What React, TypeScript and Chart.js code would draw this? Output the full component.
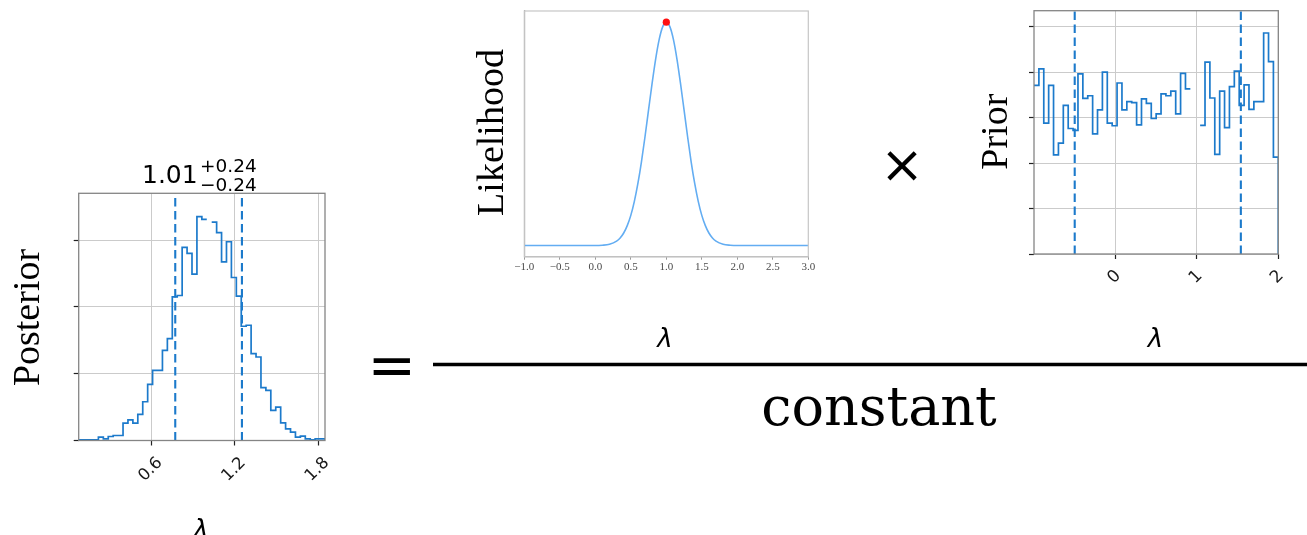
import React, { useEffect, useRef } from "react";
import { Chart, registerables } from "chart.js";

Chart.register(...registerables);

// ---------- posterior: binned samples of λ (50 bins over the sample range) ----------
const posteriorRange = [0.075, 1.848];
const posteriorCounts: (number | null)[] = [
  0.01, 0.01, 0.01, 0.01, 0.05, 0.025, 0.06, 0.075, 0.075, 0.26,
  0.31, 0.26, 0.39, 0.58, 0.84, 1.05, 1.05, 1.35, 1.525, 2.15,
  2.17, 2.89, 2.8, 2.49, 3.35, 3.31, null, 3.27, 3.11, 2.675,
  2.975, 2.44, 2.16, 1.71, 1.725, 1.3, 1.25, 0.79, 0.75, 0.45,
  0.5, 0.265, 0.175, 0.125, 0.05, 0.065, 0.025, 0.01, 0.025, 0.025,
];
const posteriorMedian = 1.01;
const posteriorErrLow = 0.24;
const posteriorErrHigh = 0.24;
const posteriorXTicks = [0.6, 1.2, 1.8];
const posteriorXTickLabels = ["0.6", "1.2", "1.8"];
const posteriorYTicks = [0, 1, 2, 3];
const posteriorYMax = 3.7;

// ---------- likelihood curve ----------
const likelihoodX = [
  -1.0, -0.5, 0.0, 0.1, 0.2, 0.3, 0.35, 0.4, 0.45, 0.5,
  0.55, 0.6, 0.65, 0.7, 0.75, 0.8, 0.85, 0.9, 0.95, 1.0,
  1.05, 1.1, 1.15, 1.2, 1.25, 1.3, 1.35, 1.4, 1.45, 1.5,
  1.55, 1.6, 1.65, 1.7, 1.8, 1.9, 2.0, 2.5, 3.0,
];
const likelihoodY = [
  0, 0, 0, 0.0015, 0.006, 0.02, 0.034, 0.056, 0.089, 0.135,
  0.198, 0.278, 0.375, 0.487, 0.607, 0.726, 0.835, 0.923, 0.98, 1.0,
  0.98, 0.923, 0.835, 0.726, 0.607, 0.487, 0.375, 0.278, 0.198, 0.135,
  0.089, 0.056, 0.034, 0.02, 0.006, 0.0015, 0, 0, 0,
];
const likelihoodXTicks = [-1, -0.5, 0, 0.5, 1, 1.5, 2, 2.5, 3];
const likelihoodXTickLabels = ["\u22121.0", "\u22120.5", "0.0", "0.5", "1.0", "1.5", "2.0", "2.5", "3.0"];
const likelihoodYRange = [-0.05, 1.05];

// ---------- prior: binned samples of λ ----------
const priorRange = [-1, 2];
const priorCounts: (number | null)[] = [
  3.71, 4.07, 2.88, 3.71, 2.18, 2.44, 3.27, 2.76, 2.72, 3.96,
  3.42, 3.48, 2.64, 3.17, 4.0, 2.88, 2.82, 3.76, 3.17, 3.35,
  3.33, 2.84, 3.41, 3.31, 2.98, 3.08, 3.52, 3.48, 3.58, 3.08,
  3.97, 3.63, null, null, 2.83, 4.22, 3.43, 2.19, 3.58, 2.78,
  3.68, 4.02, 3.27, 3.72, 3.18, 3.35, 3.35, 4.86, 4.23, 2.13,
];
const priorBounds = [-0.5, 1.54];
const priorXTicks = [0, 1, 2];
const priorXTickLabels = ["0", "1", "2"];
const priorYTicks = [0, 1, 2, 3, 4, 5];
const priorYMax = 5.35;

// ---------- styling ----------
const HIST_BLUE = "#1c7acb";
const CURVE_BLUE = "#63adf2";
const GRID = "#cbcbcb";
const TICK = "#222222";
const FRAME = "#858585";
const SANS = '"DejaVu Sans", sans-serif';
const SERIF = '"Liberation Serif", "Times New Roman", serif';

type Pt = { x: number; y: number | null };

// Outline of a step histogram: across each bin, dropping to zero at the right edge.
function stepOutline(range: number[], counts: (number | null)[]): Pt[] {
  const [lo, hi] = range;
  const w = (hi - lo) / counts.length;
  const pts: Pt[] = [];
  counts.forEach((c, i) => {
    const a = lo + i * w;
    if (c === null) pts.push({ x: a + w / 2, y: null });
    else pts.push({ x: a, y: c }, { x: a + w, y: c });
  });
  pts.push({ x: hi, y: 0 });
  return pts;
}

// Full box around the plotting area.
const framePlugin = {
  id: "frame",
  afterDatasetsDraw(chart: any, _args: any, opts: any) {
    const { ctx, chartArea: a } = chart;
    ctx.save();
    ctx.strokeStyle = opts.color;
    ctx.lineWidth = opts.width;
    ctx.strokeRect(a.left, a.top, a.right - a.left, a.bottom - a.top);
    ctx.restore();
  },
};

// Tick labels rotated 45°, centred under each tick.
const slantedTicksPlugin = {
  id: "slantedTicks",
  afterDraw(chart: any, _args: any, opts: any) {
    if (!opts || !opts.labels) return;
    const { ctx, chartArea } = chart;
    const xs = chart.scales.x;
    ctx.save();
    ctx.font = opts.font;
    ctx.fillStyle = opts.color;
    ctx.textAlign = "center";
    ctx.textBaseline = "middle";
    xs.ticks.forEach((t: any, i: number) => {
      const px = xs.getPixelForValue(t.value);
      ctx.save();
      ctx.translate(px + opts.dx, chartArea.bottom + opts.dy);
      ctx.rotate(-Math.PI / 4);
      ctx.fillText(opts.labels[i], 0, 0);
      ctx.restore();
    });
    ctx.restore();
  },
};

function cornerAxis(min: number, max: number, ticks: number[], size: number, isX: boolean) {
  return {
    type: "linear",
    min,
    max,
    afterBuildTicks: (s: any) => {
      s.ticks = ticks.map((v) => ({ value: v }));
    },
    afterFit: (s: any) => {
      if (isX) s.height = size;
      else s.width = size;
    },
    grid: { color: GRID, lineWidth: 1, drawTicks: true, tickLength: 5, tickColor: TICK, tickWidth: 1.2 },
    border: { display: false },
    ticks: { display: false },
  };
}

function histogramConfig(p: {
  range: number[];
  counts: (number | null)[];
  marks: number[];
  yMax: number;
  xTicks: number[];
  yTicks: number[];
  xLabels: string[];
  padTop: number;
  padRight: number;
  yAxisWidth: number;
  xAxisHeight: number;
  labelFont: string;
  labelDy: number;
}): any {
  const dashed = p.marks.map((m) => ({
    data: [
      { x: m, y: 0 },
      { x: m, y: p.yMax },
    ],
    borderColor: HIST_BLUE,
    borderWidth: 2.1,
    borderDash: [8.5, 4.5],
    pointRadius: 0,
    fill: false,
  }));
  return {
    type: "line",
    data: {
      datasets: [
        ...dashed,
        {
          data: stepOutline(p.range, p.counts),
          borderColor: HIST_BLUE,
          borderWidth: 1.7,
          pointRadius: 0,
          fill: false,
          tension: 0,
          spanGaps: false,
        },
      ],
    },
    options: {
      responsive: false,
      animation: false,
      events: [],
      layout: { padding: { top: p.padTop, right: p.padRight, left: 0, bottom: 0 } },
      scales: {
        x: cornerAxis(p.range[0], p.range[1], p.xTicks, p.xAxisHeight, true),
        y: cornerAxis(0, p.yMax, p.yTicks, p.yAxisWidth, false),
      },
      plugins: {
        legend: { display: false },
        tooltip: { enabled: false },
        frame: { color: FRAME, width: 1.3 },
        slantedTicks: { labels: p.xLabels, font: p.labelFont, color: "#1a1a1a", dx: -1, dy: p.labelDy },
      },
    },
    plugins: [framePlugin, slantedTicksPlugin],
  };
}

function posteriorConfig() {
  return histogramConfig({
    range: posteriorRange,
    counts: posteriorCounts,
    marks: [posteriorMedian - posteriorErrLow, posteriorMedian + posteriorErrHigh],
    yMax: posteriorYMax,
    xTicks: posteriorXTicks,
    yTicks: posteriorYTicks,
    xLabels: posteriorXTickLabels,
    padTop: 13.3,
    padRight: 15,
    yAxisWidth: 18.7,
    xAxisHeight: 59.5,
    labelFont: `16.5px ${SANS}`,
    labelDy: 29,
  });
}

function priorConfig() {
  return histogramConfig({
    range: priorRange,
    counts: priorCounts,
    marks: priorBounds,
    yMax: priorYMax,
    xTicks: priorXTicks,
    yTicks: priorYTicks,
    xLabels: priorXTickLabels,
    padTop: 10.7,
    padRight: 28.7,
    yAxisWidth: 24,
    xAxisHeight: 46,
    labelFont: `17px ${SANS}`,
    labelDy: 23,
  });
}

function likelihoodConfig(): any {
  const curve = likelihoodX.map((x, i) => ({ x, y: likelihoodY[i] }));
  const peakIndex = likelihoodY.indexOf(Math.max(...likelihoodY));
  return {
    type: "line",
    data: {
      datasets: [
        {
          data: [curve[peakIndex]],
          pointRadius: 3.6,
          pointBackgroundColor: "#ff1010",
          pointBorderWidth: 0,
          showLine: false,
        },
        {
          data: curve,
          borderColor: CURVE_BLUE,
          borderWidth: 1.6,
          pointRadius: 0,
          fill: false,
          cubicInterpolationMode: "monotone",
        },
      ],
    },
    options: {
      responsive: false,
      animation: false,
      events: [],
      layout: { padding: { top: 11, right: 21.7, left: 0, bottom: 0 } },
      scales: {
        x: {
          type: "linear",
          min: likelihoodXTicks[0],
          max: likelihoodXTicks[likelihoodXTicks.length - 1],
          afterBuildTicks: (s: any) => {
            s.ticks = likelihoodXTicks.map((v) => ({ value: v }));
          },
          afterFit: (s: any) => {
            s.height = 43.3;
          },
          grid: { display: true, drawOnChartArea: false, drawTicks: true, tickLength: 3, tickColor: "#9a9a9a" },
          border: { display: true, color: "#9a9a9a", width: 1.2 },
          ticks: {
            autoSkip: false,
            maxRotation: 0,
            minRotation: 0,
            padding: 1,
            color: "#4a4a4a",
            font: { family: SERIF, size: 11 },
            callback: (_v: any, i: number) => likelihoodXTickLabels[i],
          },
        },
        y: {
          type: "linear",
          min: likelihoodYRange[0],
          max: likelihoodYRange[1],
          afterFit: (s: any) => {
            s.width = 24.3;
          },
          grid: { display: false },
          border: { display: true, color: "#ababab", width: 1.2 },
          ticks: { display: false },
        },
      },
      plugins: {
        legend: { display: false },
        tooltip: { enabled: false },
        frame: { color: "#c6c6c6", width: 1.2 },
      },
    },
    plugins: [framePlugin],
  };
}

function ChartCanvas(props: { left: number; top: number; width: number; height: number; build: () => any }) {
  const ref = useRef<HTMLCanvasElement>(null);
  useEffect(() => {
    const chart = new Chart(ref.current as HTMLCanvasElement, props.build());
    return () => chart.destroy();
  }, []);
  return (
    <canvas
      ref={ref}
      width={props.width}
      height={props.height}
      style={{ position: "absolute", left: props.left, top: props.top, width: props.width, height: props.height }}
    />
  );
}

export default function App() {
  const title = posteriorMedian.toFixed(2);
  const sup = "+" + posteriorErrHigh.toFixed(2);
  const sub = "\u2212" + posteriorErrLow.toFixed(2);
  return (
    <div
      style={{
        position: "absolute",
        left: 0,
        top: 0,
        width: 1307,
        height: 535,
        overflow: "hidden",
        background: "#ffffff",
      }}
    >
      <ChartCanvas left={60} top={180} width={280} height={320} build={posteriorConfig} />
      <ChartCanvas left={500} top={0} width={330} height={300} build={likelihoodConfig} />
      <ChartCanvas left={1010} top={0} width={297} height={300} build={priorConfig} />
      <svg
        width={1307}
        height={535}
        style={{ position: "absolute", left: 0, top: 0, pointerEvents: "none" }}
      >
        {/* posterior panel */}
        <text x={142} y={183.3} fontFamily={SANS} fontSize={25} fill="#000">
          {title}
        </text>
        <text x={200} y={171.7} fontFamily={SANS} fontSize={18.5} fill="#000">
          {sup}
        </text>
        <text x={200} y={190.7} fontFamily={SANS} fontSize={18.5} fill="#000">
          {sub}
        </text>
        <text transform="translate(39,317.5) rotate(-90)" textAnchor="middle" fontFamily={SERIF} fontSize={38} fill="#000">
          Posterior
        </text>
        <text x={201} y={538} textAnchor="middle" fontFamily={SANS} fontStyle="italic" fontSize={26} fill="#000">
          λ
        </text>

        {/* equals sign */}
        <text x={391.7} y={385} textAnchor="middle" fontFamily={SANS} fontSize={58} fill="#000">
          =
        </text>

        {/* likelihood panel */}
        <text transform="translate(503.3,132.5) rotate(-90)" textAnchor="middle" fontFamily={SERIF} fontSize={38} fill="#000">
          Likelihood
        </text>
        <text x={665} y={347} textAnchor="middle" fontFamily={SANS} fontStyle="italic" fontSize={26} fill="#000">
          λ
        </text>

        {/* multiplication sign */}
        <text x={902} y={182} textAnchor="middle" fontFamily={SANS} fontSize={52} fill="#000">
          ×
        </text>

        {/* prior panel */}
        <text transform="translate(1006.7,131.7) rotate(-90)" textAnchor="middle" fontFamily={SERIF} fontSize={38} fill="#000">
          Prior
        </text>
        <text x={1155.5} y={347} textAnchor="middle" fontFamily={SANS} fontStyle="italic" fontSize={26} fill="#000">
          λ
        </text>

        {/* fraction bar and denominator */}
        <line x1={433} y1={364.5} x2={1307} y2={364.5} stroke="#000" strokeWidth={3.6} />
        <text x={879} y={425} textAnchor="middle" fontFamily={'"DejaVu Serif", serif'} fontSize={54} fill="#000">
          constant
        </text>
      </svg>
    </div>
  );
}
